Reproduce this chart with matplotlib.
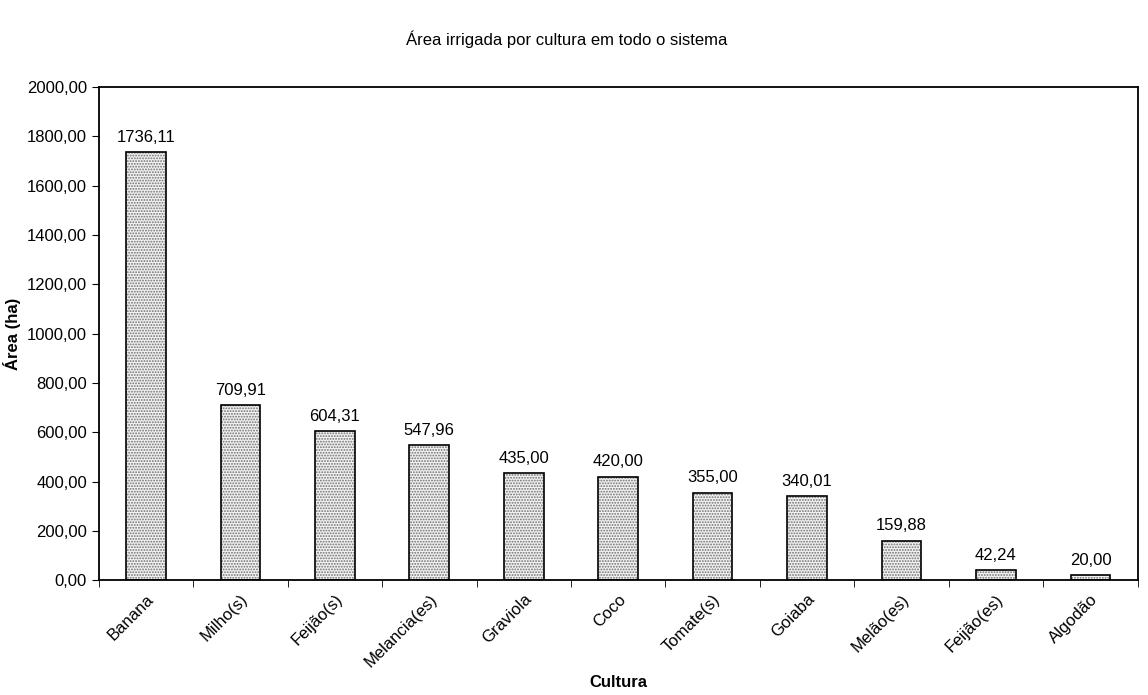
import numpy as np
import matplotlib
matplotlib.use('Agg')
from matplotlib import pyplot as plt
from matplotlib.ticker import FuncFormatter

# data
culturas = ['Banana', 'Milho(s)', 'Feijão(s)', 'Melancia(es)', 'Graviola', 'Coco',
            'Tomate(s)', 'Goiaba', 'Melão(es)', 'Feijão(es)', 'Algodão']
area = [1736.11, 709.91, 604.31, 547.96, 435.00, 420.00, 355.00, 340.01, 159.88, 42.24, 20.00]
yticks = [0, 200, 400, 600, 800, 1000, 1200, 1400, 1600, 1800, 2000]

plt.rcParams['font.family'] = ['Liberation Sans', 'DejaVu Sans']
plt.rcParams['hatch.linewidth'] = 0.9


def br(v, pos=None):
    return f'{v:.2f}'.replace('.', ',')


fig = plt.figure(figsize=(11.48, 6.95), dpi=100)
ax = fig.add_axes([0.086, 0.165, 0.905, 0.71])

x = np.arange(len(culturas))
# dotted fill, then a black outline on top
ax.bar(x, area, width=0.42, color='#f2f2f2', edgecolor='#707070', hatch='......', linewidth=0)
ax.bar(x, area, width=0.42, color='none', edgecolor='black', linewidth=1.2)

for xi, v in zip(x, area):
    ax.text(xi, v + 30, br(v), ha='center', va='bottom', fontsize=12)

ax.set_ylim(0, 2000)
ax.set_yticks(yticks)
ax.yaxis.set_major_formatter(FuncFormatter(br))
ax.set_xlim(-0.5, len(culturas) - 0.5)
ax.set_xticks(x)
ax.set_xticklabels(culturas, rotation=45, ha='right', rotation_mode='anchor', fontsize=12)
ax.set_xticks(np.arange(len(culturas) + 1) - 0.5, minor=True)
ax.tick_params(axis='x', which='major', length=0, pad=8)
ax.tick_params(axis='x', which='minor', length=5, direction='out')
ax.tick_params(axis='y', labelsize=12, length=5, direction='out')
for s in ax.spines.values():
    s.set_linewidth(1.3)

ax.set_ylabel('Área (ha)', fontsize=12, fontweight='bold', labelpad=4)
ax.set_xlabel('Cultura', fontsize=12, fontweight='bold', labelpad=4)
fig.text(0.494, 0.935, 'Área irrigada por cultura em todo o sistema', ha='center', fontsize=12)

plt.savefig('out.png')
